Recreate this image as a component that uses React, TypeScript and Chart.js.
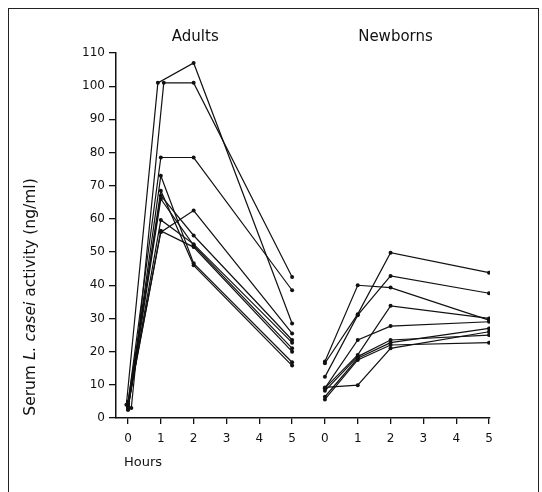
import { useEffect, useRef } from "react";
import { Chart, registerables } from "chart.js";

Chart.register(...registerables);

// ---- data ----
const hourTicks = [0, 1, 2, 3, 4, 5];
const sampleHours = [0, 1, 2, 5];
const newbornOffset = 6; // newborn panel continues on the same axis, 6 units to the right
const yTicks = [0, 10, 20, 30, 40, 50, 60, 70, 80, 90, 100, 110];

const panelTitles = ["Adults", "Newborns"];
const xTitle = "Hours";
const yTitleParts = ["Serum ", "L. casei", " activity (ng/ml)"];

// Adults: serum activity at 0, 1, 2, 5 h
const adultA = [4, 101, 107, 28.5];
const adultB = [3, 101, 101, 42.5];
const adultC = [4.5, 78.5, 78.5, 38.5];
const adultD = [4, 56, 62.5, 25.5];
const adultE = [3.5, 59.7, 52.4, 22.7];
const adultF = [2.5, 73, 46.6, 16.8];
const adultG = [3, 68.5, 46, 15.8];
const adultH = [5, 67, 55, 23.5];
const adultI = [3.5, 56.4, 51.5, 20];
const adultJ = [2.5, 66, 52, 21];
const adultSeries = [adultA, adultB, adultC, adultD, adultE, adultF, adultG, adultH, adultI, adultJ];
// plotted sampling times (slightly staggered in the original where two lines overlap)
const adultTimes = [
  [-0.05, 0.91, 2, 5],
  [0.1, 1.09, 2, 5],
  sampleHours, sampleHours, sampleHours, sampleHours,
  sampleHours, sampleHours, sampleHours, sampleHours,
];

// Newborns: serum activity at 0, 1, 2, 5 h
const newbornA = [16.5, 31.3, 49.8, 43.8];
const newbornB = [12.4, 31.0, 42.8, 37.6];
const newbornC = [17, 40, 39.3, 29.5];
const newbornD = [9, 23.5, 27.7, 29];
const newbornE = [9, 19, 33.8, 30];
const newbornF = [9.2, 9.9, 21, 26];
const newbornG = [8.2, 18.5, 23.5, 25];
const newbornH = [6.4, 18, 22.7, 27];
const newbornI = [5.6, 17.5, 22, 22.7];
const newbornSeries = [newbornA, newbornB, newbornC, newbornD, newbornE, newbornF, newbornG, newbornH, newbornI];

const INK = "#111";
const FONT = "'DejaVu Sans', 'Liberation Sans', sans-serif";

export default function App() {
  const ref = useRef<HTMLCanvasElement | null>(null);

  useEffect(() => {
    if (!ref.current) return;

    const mk = (vals: number[], times: number[], shift: number) => ({
      data: vals.map((v, i) => ({ x: times[i] + shift, y: v })),
      borderColor: INK,
      borderWidth: 1.2,
      pointRadius: 2,
      pointBackgroundColor: INK,
      pointBorderWidth: 0,
      fill: false,
      tension: 0,
    });

    const datasets = [
      ...adultSeries.map((s, i) => mk(s, adultTimes[i], 0)),
      ...newbornSeries.map((s) => mk(s, sampleHours, newbornOffset)),
    ];

    const textPlugin = {
      id: "texts",
      afterDraw(chart: any) {
        const ctx = chart.ctx as CanvasRenderingContext2D;
        const xs = chart.scales.x;
        ctx.save();
        ctx.fillStyle = INK;
        ctx.textBaseline = "middle";
        ctx.textAlign = "center";
        ctx.font = `15px ${FONT}`;
        ctx.fillText(panelTitles[0], xs.getPixelForValue(2.05), 37);
        ctx.fillText(panelTitles[1], xs.getPixelForValue(newbornOffset + 2.15), 37);
        ctx.textAlign = "left";
        ctx.font = `13px ${FONT}`;
        ctx.fillText(xTitle, xs.getPixelForValue(0) - 4, 463);

        // rotated y title with italic species name
        ctx.translate(31, 297);
        ctx.rotate(-Math.PI / 2);
        const normal = `15.5px ${FONT}`;
        const italic = `italic 15.5px ${FONT}`;
        const fonts = [normal, italic, normal];
        let total = 0;
        const widths = yTitleParts.map((p, i) => {
          ctx.font = fonts[i];
          const w = ctx.measureText(p).width;
          total += w;
          return w;
        });
        let cx = -total / 2;
        yTitleParts.forEach((p, i) => {
          ctx.font = fonts[i];
          ctx.fillText(p, cx, 0);
          cx += widths[i];
        });
        ctx.restore();
      },
    };

    const chart = new Chart(ref.current, {
      type: "line",
      data: { datasets },
      options: {
        animation: false,
        responsive: false,
        devicePixelRatio: 1,
        layout: { padding: { left: 0, right: 52, top: 53, bottom: 0 } },
        plugins: { legend: { display: false }, tooltip: { enabled: false } },
        scales: {
          x: {
            type: "linear",
            min: -0.366,
            max: 11.03,
            afterFit: (s: any) => {
              s.height = 74;
            },
            afterBuildTicks: (s: any) => {
              s.ticks = [...hourTicks, ...hourTicks.map((h) => h + newbornOffset)].map((v) => ({ value: v }));
            },
            grid: { drawOnChartArea: false, drawTicks: true, tickLength: 6, color: INK, lineWidth: 1.3 },
            border: { display: true, color: INK, width: 1.5 },
            ticks: {
              autoSkip: false,
              maxRotation: 0,
              padding: 8,
              color: INK,
              font: { family: FONT, size: 12 },
              callback: (v: any) => String(v >= newbornOffset ? v - newbornOffset : v),
            },
          },
          y: {
            min: 0,
            max: 110,
            afterFit: (s: any) => {
              s.width = 116;
            },
            afterBuildTicks: (s: any) => {
              s.ticks = yTicks.map((v) => ({ value: v }));
            },
            grid: { drawOnChartArea: false, drawTicks: true, tickLength: 7, color: INK, lineWidth: 1.3 },
            border: { display: true, color: INK, width: 1.5 },
            ticks: {
              padding: 4,
              color: INK,
              font: { family: FONT, size: 12 },
            },
          },
        },
      },
      plugins: [textPlugin],
    });

    return () => chart.destroy();
  }, []);

  return (
    <div>
      <div
        style={{
          position: "fixed",
          left: 8,
          top: 8,
          width: 531,
          height: 520,
          border: "1.5px solid #222",
          boxSizing: "border-box",
        }}
      />
      <canvas
        ref={ref}
        width={542}
        height={492}
        style={{ position: "fixed", left: 0, top: 0, width: 542, height: 492 }}
      />
    </div>
  );
}
